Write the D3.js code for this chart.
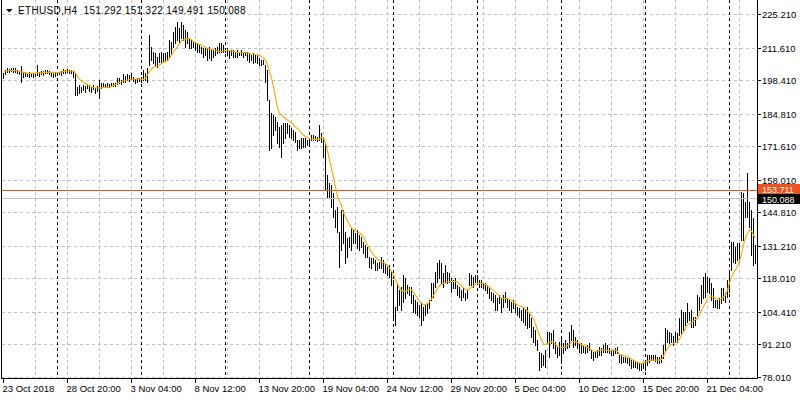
<!DOCTYPE html>
<html><head><meta charset="utf-8">
<script src="https://cdn.jsdelivr.net/npm/d3@7"></script>
<style>html,body{margin:0;padding:0;background:#fff;overflow:hidden}svg{display:block}</style>
</head><body>
<svg id="c" width="800" height="400"></svg>
<script>
// ---- data (ETHUSD H4, bar high / low, moving average) ----
const high = [
201.3,202.5,203.3,202.9,203.3,203.3,203.3,202.5,202.1,204.1,
201.3,201.7,201.3,201.7,201.3,201.3,201.3,204.5,201.7,202.1,
202.1,202.5,202.5,202.1,201.7,201.3,201.7,201.7,201.7,202.1,
202.9,202.5,202.9,202.5,202.5,202.1,201.3,195.6,196.4,195.6,
196.4,196.0,196.8,196.4,195.6,196.4,195.2,196.0,198.4,197.2,
197.2,196.8,197.2,196.8,197.2,197.2,197.2,199.2,199.2,198.4,
200.9,200.0,200.9,200.5,201.3,199.6,198.8,199.2,199.2,199.6,
202.5,201.3,203.3,216.7,211.8,209.8,209.4,207.8,209.4,209.8,
209.4,209.4,209.8,214.7,213.9,217.9,219.9,222.0,219.5,222.0,
220.7,218.7,217.9,215.5,214.7,213.9,213.4,213.4,212.6,211.8,
211.4,211.8,211.4,211.8,210.6,210.6,211.4,211.8,213.4,213.4,
212.6,211.4,211.4,210.6,210.6,210.6,209.8,210.6,209.8,210.6,
209.8,209.8,209.8,209.4,208.6,209.4,208.6,208.6,207.4,206.5,
206.5,204.5,202.5,190.3,185.0,184.2,183.4,181.4,179.3,180.2,
181.0,181.0,181.0,180.2,178.9,178.1,177.3,174.1,174.1,174.9,
174.9,174.9,174.1,174.1,176.1,176.1,175.7,175.3,180.2,176.9,
175.3,172.8,159.9,156.6,155.8,152.5,145.6,146.9,136.7,145.6,
145.6,136.7,134.3,134.7,138.3,137.5,136.3,137.5,135.5,134.7,
132.7,131.4,130.6,126.6,126.2,126.2,125.3,124.1,124.5,126.6,
125.3,124.1,122.5,123.3,120.5,117.2,106.3,116.0,113.2,114.4,
119.3,118.0,115.2,114.4,114.4,111.1,109.1,108.3,107.1,107.9,
106.3,107.1,107.9,109.1,116.0,116.0,120.5,124.1,125.3,124.1,
120.1,123.3,120.5,120.1,118.0,117.2,118.0,115.2,114.4,113.2,
114.0,111.9,113.2,120.1,119.3,118.4,119.3,119.3,117.2,117.2,
116.0,116.0,115.2,114.4,112.3,111.9,111.1,109.9,111.1,109.9,
111.1,112.3,109.9,109.1,108.3,109.1,107.9,106.3,105.9,105.0,
105.9,105.0,106.3,103.8,101.8,98.1,96.9,92.9,88.0,87.6,
86.8,88.8,96.1,96.1,95.7,96.9,92.0,90.0,92.0,93.7,
91.6,92.9,91.6,96.1,98.9,96.9,94.1,92.9,91.6,91.6,
90.8,90.0,90.8,91.6,88.8,88.0,88.0,88.8,90.0,89.6,
90.8,91.6,90.8,89.6,88.8,88.8,89.6,90.0,86.8,86.8,
85.9,85.9,85.6,85.6,84.7,84.7,83.9,83.9,83.5,83.5,
83.5,84.7,86.8,86.8,86.8,86.8,86.8,85.9,85.9,86.8,
90.8,97.7,96.9,96.1,95.7,94.5,96.1,95.7,101.8,105.0,
104.2,104.2,107.9,104.2,105.0,102.2,102.2,111.1,110.3,115.2,
118.4,120.1,118.4,118.0,116.0,114.0,109.1,109.1,109.9,114.0,
114.0,111.9,117.2,120.5,132.7,132.7,130.6,132.2,132.2,153.0,
152.5,148.9,160.7,148.9,145.6,142.4,131.4
];
const low = [
199.2,200.9,201.7,201.7,202.1,201.7,201.7,201.3,200.9,197.6,
199.6,200.0,200.0,199.6,200.0,199.6,200.0,200.5,200.0,200.9,
200.5,201.3,201.3,200.9,200.0,199.6,200.0,200.5,200.9,200.5,
201.3,201.3,201.7,201.3,201.3,199.6,192.3,192.3,193.1,193.5,
194.4,193.5,195.2,193.9,193.5,194.8,193.1,193.9,191.1,195.2,
195.6,195.6,195.6,195.6,196.0,196.0,196.0,196.8,197.2,196.8,
197.6,197.6,198.4,198.0,198.8,198.0,197.2,197.6,198.0,197.6,
198.4,198.4,197.6,204.5,206.5,205.3,204.5,203.7,205.7,205.3,
205.7,206.5,206.5,207.8,209.4,211.8,213.4,214.7,213.4,215.5,
214.7,211.8,213.4,211.4,211.4,211.8,210.6,209.8,209.8,209.4,
207.8,208.6,206.5,207.4,206.5,207.8,208.6,209.4,209.8,209.8,
209.8,209.8,208.6,207.4,208.6,207.8,207.8,207.8,208.6,208.6,
207.8,208.6,206.5,205.7,206.5,205.3,205.7,205.3,204.5,204.5,
204.9,197.6,190.3,170.0,170.8,176.1,178.1,172.8,171.2,167.2,
172.8,174.9,176.9,175.3,174.9,174.1,173.3,170.0,170.8,170.8,
171.2,171.2,172.0,172.0,174.1,174.1,174.1,173.7,174.1,173.3,
167.2,153.8,150.9,150.9,146.9,142.8,138.7,136.7,122.5,129.4,
132.2,124.1,126.6,130.6,129.4,132.2,132.2,130.2,129.4,130.6,
128.2,126.6,126.6,122.5,122.1,124.1,121.3,121.3,122.1,122.1,
120.5,120.1,119.3,118.4,115.2,102.2,98.9,105.0,107.1,105.0,
108.3,109.9,111.9,111.1,107.9,104.2,103.8,103.0,102.2,98.9,
101.0,103.0,103.8,105.9,109.1,110.3,114.4,116.4,118.0,116.0,
114.4,116.4,116.0,116.4,112.3,114.0,114.0,111.1,110.3,109.1,
110.3,109.1,109.9,115.2,115.2,114.4,116.4,116.0,114.4,114.4,
114.0,113.2,111.9,109.9,109.1,108.3,105.0,105.0,107.9,104.2,
106.3,108.3,106.3,105.0,104.2,105.9,104.2,103.0,102.2,101.0,
100.2,98.9,97.7,98.1,94.1,92.0,90.8,88.8,80.7,81.9,
82.7,81.9,91.6,85.9,91.6,89.6,87.6,85.9,86.8,83.5,
87.6,88.8,89.6,90.0,92.9,90.0,90.8,89.6,88.0,87.6,
88.0,87.6,88.0,88.8,85.6,84.7,85.9,85.9,86.8,86.8,
88.0,88.0,88.0,87.6,86.8,86.8,87.6,87.6,83.9,83.5,
83.9,83.9,83.5,82.7,81.5,81.9,81.9,81.5,80.7,80.7,
81.5,80.7,82.7,83.9,84.7,84.7,84.3,83.5,83.5,83.9,
85.6,88.8,92.0,91.6,92.0,90.8,92.0,92.0,94.9,95.7,
96.9,98.9,100.2,101.0,98.1,98.1,98.9,103.0,105.0,107.9,
109.9,110.3,112.3,111.9,109.1,106.3,106.3,105.9,105.9,107.9,
109.1,108.3,110.3,112.3,121.3,124.5,124.1,125.3,124.5,133.5,
133.5,142.8,142.8,138.7,127.4,123.3,124.1
];
const ma = [
201.7,201.9,202.1,202.3,202.3,202.3,202.3,202.1,201.9,201.7,
201.5,201.3,201.1,201.1,201.1,201.1,201.1,201.3,201.3,201.3,
201.5,201.5,201.5,201.5,201.5,201.3,201.3,201.5,201.5,201.7,
201.9,201.9,202.1,202.1,202.1,202.1,201.3,199.8,198.8,198.0,
197.4,197.0,196.4,196.0,195.6,195.4,195.2,195.2,195.2,195.2,
195.4,195.4,195.6,195.6,195.8,196.2,196.6,197.0,197.4,197.6,
198.0,198.2,198.4,198.6,198.8,198.8,198.8,198.8,198.8,198.6,
198.6,199.2,200.5,201.9,202.9,203.5,203.9,204.1,204.5,205.1,
205.5,205.9,206.3,207.2,208.6,209.8,211.0,212.0,213.2,214.3,
214.7,214.9,215.3,215.3,214.7,214.1,213.6,213.2,212.8,212.4,
212.0,211.6,211.2,211.0,210.8,210.6,210.4,210.2,210.0,210.0,
210.2,210.4,210.6,210.4,210.2,210.0,209.8,209.6,209.6,209.6,
209.6,209.6,209.4,209.2,209.0,209.0,208.8,208.6,208.4,208.0,
207.4,206.5,204.5,201.7,199.2,195.6,191.1,187.1,185.0,184.2,
183.4,182.8,182.2,181.6,181.0,180.2,179.3,178.7,177.9,176.9,
176.1,175.5,175.1,174.7,174.5,174.3,174.3,174.3,174.5,175.1,
174.9,172.8,169.6,165.9,162.3,159.0,155.0,150.9,149.3,147.3,
144.4,142.8,141.2,139.6,138.3,137.7,137.1,136.7,136.3,135.7,
134.7,133.0,131.4,130.0,128.6,127.4,126.6,125.7,125.1,124.7,
124.3,123.9,123.1,122.1,120.9,119.3,117.2,115.6,114.0,113.0,
112.8,112.6,113.0,113.4,113.2,112.3,111.1,109.7,108.7,107.9,
107.1,107.3,107.7,108.3,109.5,110.9,112.3,113.8,114.8,115.4,
115.8,116.0,116.4,116.6,116.6,116.6,116.6,116.4,115.6,114.8,
114.0,113.4,113.2,113.6,114.2,114.8,115.4,115.8,115.8,115.8,
115.8,115.4,114.8,114.2,113.6,113.0,112.3,111.5,110.7,109.9,
109.7,109.7,109.7,109.5,108.9,108.3,107.7,107.1,106.7,106.5,
106.1,105.4,104.6,103.8,102.8,101.4,99.4,96.9,94.9,92.9,
91.2,91.0,91.6,92.0,92.2,92.0,91.2,90.2,90.0,89.8,
89.8,90.0,90.6,91.2,91.8,92.2,92.2,91.8,91.4,91.0,
90.6,90.2,89.8,89.2,88.8,88.4,88.2,88.4,88.6,88.8,
88.8,88.8,88.6,88.6,88.6,88.8,88.8,88.2,87.2,86.8,
86.6,86.4,86.2,85.7,85.1,84.7,84.3,83.9,83.5,83.3,
83.5,83.9,84.3,84.5,84.7,84.7,84.7,84.7,84.7,84.9,
86.4,88.0,89.4,90.4,91.0,91.4,91.8,92.2,93.3,94.9,
96.1,97.7,98.9,99.4,99.8,100.4,101.2,101.8,103.0,104.8,
106.5,107.9,109.1,110.3,110.7,110.3,109.7,109.5,109.3,109.7,
110.3,111.1,113.2,116.0,118.4,120.1,121.3,122.9,124.9,127.8,
131.4,134.3,136.3,137.5,137.1,135.5,134.3
];
const priceTicks = [225.21,211.61,198.41,184.81,171.61,158.01,144.81,131.21,118.01,104.41,91.21,78.01];
const priceTickLabels = ["225.210","211.610","198.410","184.810","171.610","158.010","144.810","131.210","118.010","104.410","91.210","78.010"];
const timeTickBars = [0,32,64,96,128,160,192,224,256,288,320,352];
const timeTickLabels = ["23 Oct 2018","28 Oct 20:00","3 Nov 04:00","8 Nov 12:00","13 Nov 20:00","19 Nov 04:00","24 Nov 12:00","29 Nov 20:00","5 Dec 04:00","10 Dec 12:00","15 Dec 20:00","21 Dec 04:00"];
const gridBars = [16,32,48,64,80,96,112,128,144,160,176,192,208,224,240,256,272,288,304,320,336,352,368];
const weekSeparatorBars = [27,69,111,153,195,237,279,321,363];
const symbolTitle = "ETHUSD,H4";
const lastOHLC = ["151.292","151.322","149.491","150.088"];
const askPrice = 153.711, bidPrice = 150.088;

// ---- drawing ----
const svg = d3.select("#c");
const FONT = "'Liberation Sans', Arial, sans-serif";
const plotL = 1, plotR = 757, plotB = 378;
const x = d3.scaleLinear().domain([0, high.length - 1]).range([3, 3 + 2 * (high.length - 1)]);
const y = d3.scaleLinear().domain([78.01, 225.21]).range([376.6, 14]);
const px = v => Math.round(v) + 0.5;

const g = svg.append("g").attr("shape-rendering", "crispEdges");

// grid
g.selectAll(".hg").data(priceTicks).join("line")
  .attr("x1", plotL + 1).attr("x2", plotR)
  .attr("y1", d => px(y(d))).attr("y2", d => px(y(d)))
  .attr("stroke", "#c0c0c0").attr("stroke-dasharray", "3,3");
g.selectAll(".vg").data(gridBars).join("line")
  .attr("x1", d => x(d) + 0.5).attr("x2", d => x(d) + 0.5)
  .attr("y1", 0).attr("y2", plotB)
  .attr("stroke", "#c0c0c0").attr("stroke-dasharray", "3,3");
// weekly separators
g.selectAll(".sep").data(weekSeparatorBars).join("line")
  .attr("x1", d => x(d) + 0.5).attr("x2", d => x(d) + 0.5)
  .attr("y1", 0).attr("y2", plotB)
  .attr("stroke", "#000").attr("stroke-dasharray", "3,3");

// bars
g.selectAll(".bar").data(high).join("rect")
  .attr("x", (d, i) => x(i))
  .attr("y", (d, i) => Math.round(y(d)))
  .attr("width", 1)
  .attr("height", (d, i) => Math.max(1, Math.round(y(low[i])) - Math.round(y(d)) + 1))
  .attr("fill", "#000");

// bid / ask lines
g.append("line").attr("x1", plotL + 1).attr("x2", plotR)
  .attr("y1", Math.floor(y(bidPrice)) - 0.5).attr("y2", Math.floor(y(bidPrice)) - 0.5)
  .attr("stroke", "#c0c0c0");
g.append("line").attr("x1", plotL + 1).attr("x2", plotR)
  .attr("y1", Math.round(y(askPrice)) + 0.5).attr("y2", Math.round(y(askPrice)) + 0.5)
  .attr("stroke", "#f0501e");

// moving average
svg.append("path").datum(ma)
  .attr("d", d3.line().x((d, i) => x(i) + 0.5).y(d => y(d)))
  .attr("fill", "none").attr("stroke", "#ffa500").attr("stroke-width", 1.1);

// frame
g.append("line").attr("x1", plotL + 0.5).attr("x2", plotL + 0.5).attr("y1", 0).attr("y2", plotB + 1).attr("stroke", "#000");
g.append("line").attr("x1", plotR + 0.5).attr("x2", plotR + 0.5).attr("y1", 0).attr("y2", plotB + 1).attr("stroke", "#000");
g.append("line").attr("x1", plotL).attr("x2", plotR + 1).attr("y1", plotB + 0.5).attr("y2", plotB + 0.5).attr("stroke", "#000");

// price axis
g.selectAll(".pt").data(priceTicks).join("line")
  .attr("x1", plotR + 1).attr("x2", plotR + 4)
  .attr("y1", d => px(y(d))).attr("y2", d => px(y(d)))
  .attr("stroke", "#000");
svg.selectAll(".pl").data(priceTicks).join("text")
  .attr("x", 762).attr("y", d => Math.round(y(d)) + 4)
  .attr("font-family", FONT).attr("font-size", "9.5px").attr("fill", "#000")
  .text((d, i) => priceTickLabels[i]);

// time axis
g.selectAll(".tt").data(timeTickBars).join("line")
  .attr("x1", d => x(d) + 0.5).attr("x2", d => x(d) + 0.5)
  .attr("y1", plotB + 1).attr("y2", plotB + 5)
  .attr("stroke", "#000");
svg.selectAll(".tl").data(timeTickBars).join("text")
  .attr("x", d => x(d) - 0.5).attr("y", 392)
  .attr("font-family", FONT).attr("font-size", "9.5px").attr("fill", "#000")
  .text((d, i) => timeTickLabels[i]);

// current price labels
function priceTag(yTop, fill, label) {
  svg.append("rect").attr("x", 758).attr("y", yTop).attr("width", 42).attr("height", 10)
    .attr("fill", fill).attr("shape-rendering", "crispEdges");
  svg.append("text").attr("x", 762).attr("y", yTop + 8.5)
    .attr("font-family", FONT).attr("font-size", "9px").attr("fill", "#fff").text(label);
}
priceTag(Math.floor(y(askPrice)) - 6, "#f0501e", askPrice.toFixed(3));
priceTag(Math.floor(y(bidPrice)) - 5, "#000", bidPrice.toFixed(3));

// header
svg.append("path").attr("d", "M6,9 L12.5,9 L9.25,12.5 Z").attr("fill", "#000");
svg.append("text").attr("x", 18).attr("y", 14)
  .attr("font-family", FONT).attr("font-size", "10px").attr("fill", "#000")
  .attr("letter-spacing", "0.3px").attr("xml:space", "preserve")
  .text(symbolTitle + "  " + lastOHLC.join(" "));
</script>
</body></html>
